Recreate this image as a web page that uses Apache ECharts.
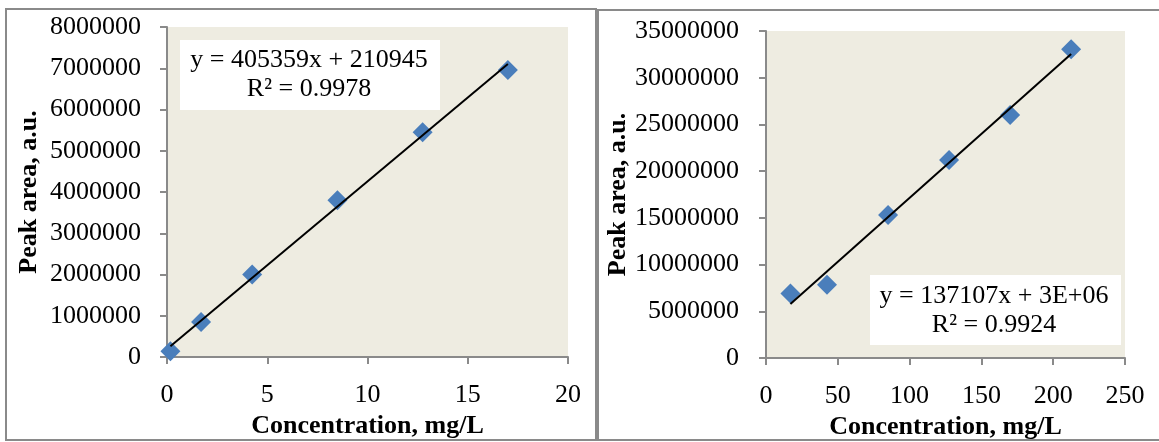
<!DOCTYPE html>
<html>
<head>
<meta charset="utf-8">
<script src="https://cdn.jsdelivr.net/npm/echarts@6/dist/echarts.min.js"></script>
<style>
html,body{margin:0;padding:0;background:#fff;}
#c{width:1159px;height:442px;}
</style>
</head>
<body>
<div id="c"></div>
<script>
// ---- data ----
const leftConc = [0.17, 1.7, 4.25, 8.5, 12.75, 17];
const leftArea = [140000, 850000, 2000000, 3800000, 5450000, 6960000];
const rightConc = [17, 42.5, 85, 127.5, 170, 212.5];
const rightArea = [6900000, 7850000, 15300000, 21200000, 26000000, 33050000];
const leftEquation = ['y = 405359x + 210945', 'R² = 0.9978'];
const rightEquation = ['y = 137107x + 3E+06', 'R² = 0.9924'];
const xTitle = 'Concentration, mg/L';
const yTitle = 'Peak area, a.u.';

function fit(xs, ys) {
  const n = xs.length;
  const mx = xs.reduce((a, b) => a + b, 0) / n;
  const my = ys.reduce((a, b) => a + b, 0) / n;
  let sxy = 0, sxx = 0;
  for (let i = 0; i < n; i++) { sxy += (xs[i] - mx) * (ys[i] - my); sxx += (xs[i] - mx) ** 2; }
  const m = sxy / sxx, b = my - m * mx;
  const x0 = Math.min(...xs), x1 = Math.max(...xs);
  return [[x0, m * x0 + b], [x1, m * x1 + b]];
}

const FONT = "'Liberation Serif', 'Times New Roman', serif";
const AXIS_COLOR = '#8a8a8a';

function xAxis(gridIndex, max, interval) {
  return {
    type: 'value', gridIndex, min: 0, max, interval,
    name: xTitle, nameLocation: 'middle', nameGap: 53,
    nameTextStyle: { fontFamily: FONT, fontSize: 26, fontWeight: 'bold', color: '#000' },
    axisLine: { show: true, lineStyle: { color: AXIS_COLOR, width: 2 } },
    axisTick: { show: true, inside: false, length: 7, lineStyle: { color: AXIS_COLOR, width: 2 } },
    axisLabel: { fontFamily: FONT, fontSize: 26, color: '#000', margin: 25 },
    splitLine: { show: false }
  };
}
function yAxis(gridIndex, max, interval, gap, margin) {
  return {
    type: 'value', gridIndex, min: 0, max, interval,
    name: yTitle, nameLocation: 'middle', nameGap: gap,
    nameTextStyle: { fontFamily: FONT, fontSize: 26, fontWeight: 'bold', color: '#000' },
    axisLine: { show: true, lineStyle: { color: AXIS_COLOR, width: 2 } },
    axisTick: { show: true, inside: false, length: 7, lineStyle: { color: AXIS_COLOR, width: 2 } },
    axisLabel: { fontFamily: FONT, fontSize: 26, color: '#000', margin: margin, formatter: v => String(v) },
    splitLine: { show: false }
  };
}

const scatterStyle = { color: '#4A7EBB', opacity: 1 };
const chart = echarts.init(document.getElementById('c'), null, { renderer: 'canvas' });
chart.setOption({
  animation: false,
  backgroundColor: '#fff',
  grid: [
    { left: 167, top: 27, width: 401, height: 330, show: true, backgroundColor: '#EEECE1', borderWidth: 0, outerBoundsMode: 'none' },
    { left: 766, top: 31, width: 359, height: 327, show: true, backgroundColor: '#EEECE1', borderWidth: 0, outerBoundsMode: 'none' }
  ],
  xAxis: [xAxis(0, 20, 5), xAxis(1, 250, 50)],
  yAxis: [yAxis(0, 8000000, 1000000, 125, 26), yAxis(1, 35000000, 5000000, 134, 27)],
  series: [
    { type: 'scatter', xAxisIndex: 0, yAxisIndex: 0, symbol: 'diamond', symbolSize: 20, itemStyle: scatterStyle,
      data: leftConc.map((x, i) => [x, leftArea[i]]), z: 2 },
    { type: 'line', xAxisIndex: 0, yAxisIndex: 0, symbol: 'none', lineStyle: { color: '#000', width: 2 },
      data: fit(leftConc, leftArea), z: 3 },
    { type: 'scatter', xAxisIndex: 1, yAxisIndex: 1, symbol: 'diamond', symbolSize: 20, itemStyle: scatterStyle,
      data: rightConc.map((x, i) => [x, rightArea[i]]), z: 2 },
    { type: 'line', xAxisIndex: 1, yAxisIndex: 1, symbol: 'none', lineStyle: { color: '#000', width: 2 },
      data: fit(rightConc, rightArea), z: 3 }
  ],
  graphic: [
    { type: 'rect', shape: { x: 6, y: 9, width: 590, height: 431 }, style: { fill: 'none', stroke: '#8a8a8a', lineWidth: 2 }, z: 10 },
    { type: 'rect', shape: { x: 598, y: 10, width: 600, height: 430 }, style: { fill: 'none', stroke: '#8a8a8a', lineWidth: 2 }, z: 10 },
    { type: 'rect', shape: { x: 180, y: 40, width: 260, height: 70 }, style: { fill: '#fff' }, z: 5 },
    { type: 'text', x: 309, y: 75, z: 6,
      style: { text: leftEquation.join('\n'), fontFamily: FONT, fontSize: 26, lineHeight: 29, fill: '#000', align: 'center', verticalAlign: 'middle' } },
    { type: 'rect', shape: { x: 870, y: 275, width: 251, height: 70 }, style: { fill: '#fff' }, z: 5 },
    { type: 'text', x: 994, y: 311, z: 6,
      style: { text: rightEquation.join('\n'), fontFamily: FONT, fontSize: 26, lineHeight: 29, fill: '#000', align: 'center', verticalAlign: 'middle' } }
  ]
});
</script>
</body>
</html>
